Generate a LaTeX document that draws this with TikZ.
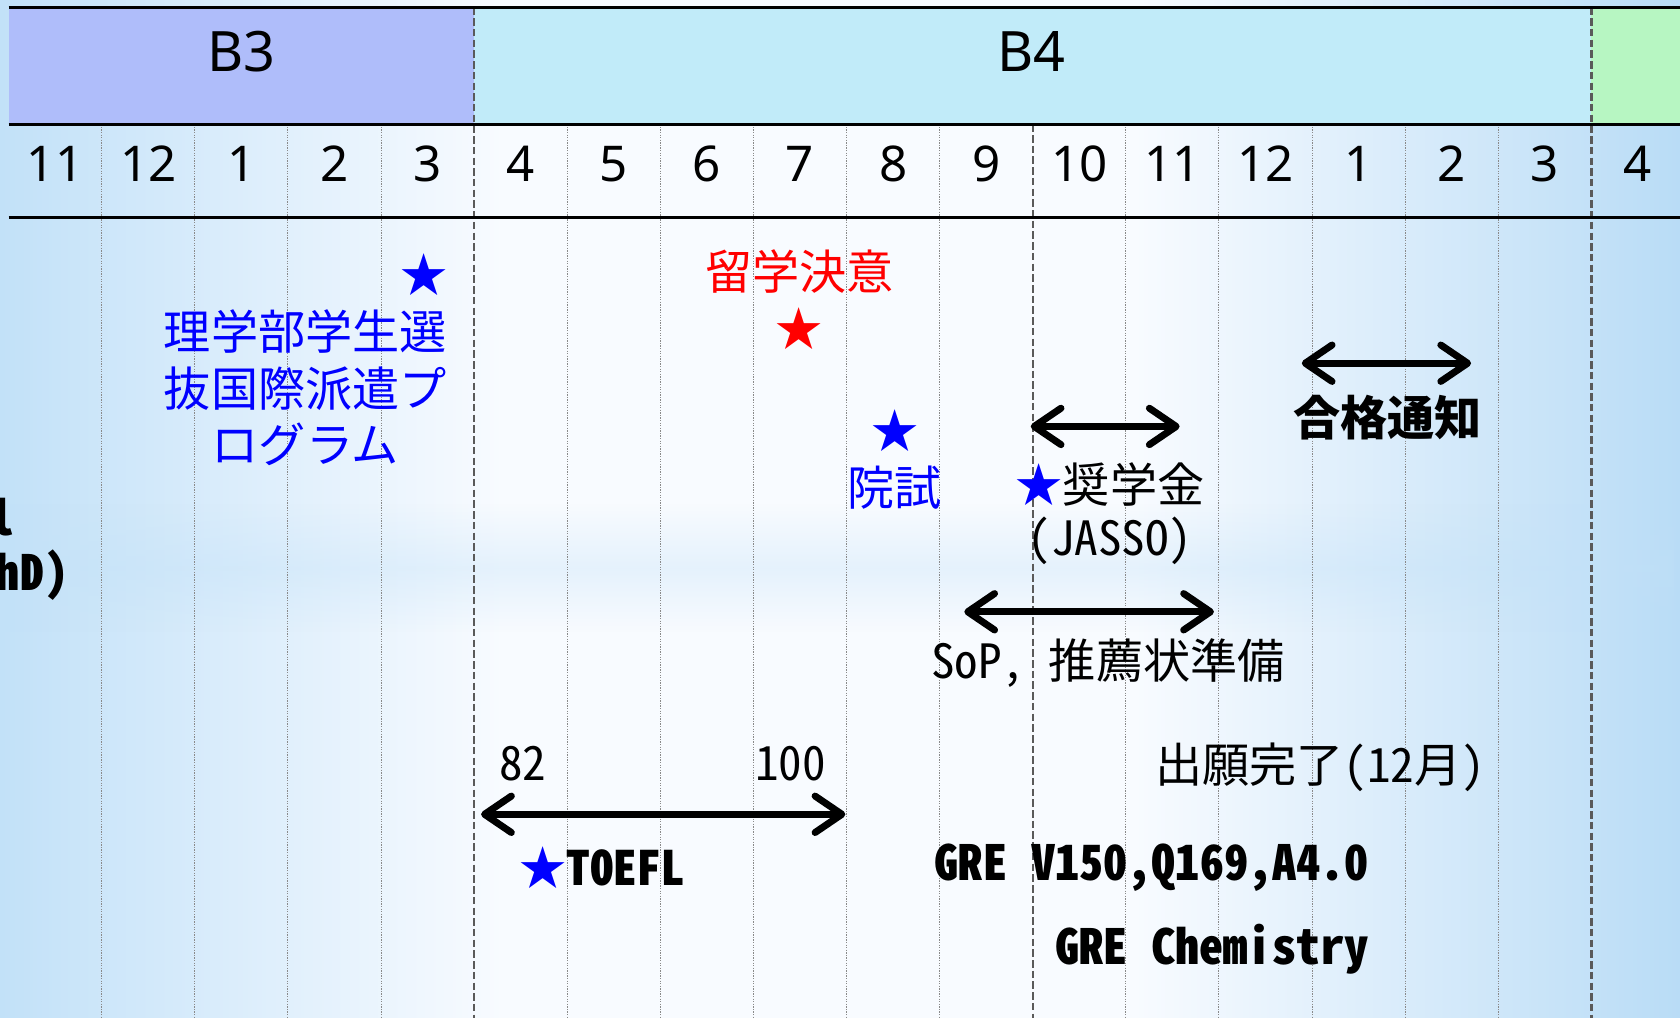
\documentclass[tikz,border=0pt]{standalone}
\usepackage{fontspec}
\setmainfont{Noto Sans}
\newfontfamily\jp{Noto Sans CJK JP}
\newfontfamily\hw{Noto Sans CJK JP}[RawFeature=+hwid]
\usetikzlibrary{arrows.meta,fadings}
\definecolor{bgL}{HTML}{C2E1F8}
\definecolor{bgM}{HTML}{F8FBFF}
\definecolor{bgR}{HTML}{B9DCF6}
\definecolor{bandB3}{HTML}{AFBDFA}
\definecolor{bandB4}{HTML}{C1EBF9}
\definecolor{bandNext}{HTML}{B7F6C2}
\definecolor{dashgray}{HTML}{5A5A5A}
\definecolor{dotgray}{HTML}{8A8A8A}
\tikzfading[name=vband, top color=transparent!100, bottom color=transparent!100, middle color=transparent!0]
\tikzset{
  dotline/.style={draw=dotgray, line width=0.9pt, dash pattern=on 1.2pt off 1.2pt},
  dashline/.style={draw=dashgray, line width=2.2pt, dash pattern=on 7pt off 3pt},
  rule/.style={draw=black, line width=2.6pt},
  bandlbl/.style={inner sep=0pt, font=\fontsize{52}{60}\selectfont\bfseries},
  monthlbl/.style={inner sep=0pt, font=\fontsize{46}{54}\selectfont},
  jtxt/.style={inner sep=0pt, font=\jp\fontsize{44}{52.5}\selectfont},
  ltxt/.style={inner sep=0pt, font=\hw\fontsize{44}{52.5}\selectfont},
  btxt/.style={inner sep=0pt, font=\hw\bfseries\fontsize{45}{54}\selectfont},
  barb/.tip={Straight Barb[length=25pt,width=34pt,line cap=round,line join=round]},
  dblarrow/.style={line width=6.5pt, line cap=round, barb-barb},
}
\begin{document}
\begin{tikzpicture}[x=1pt,y=-1pt]
\useasboundingbox (0,0) rectangle (1568,950);
\clip (0,0) rectangle (1568,950);
% background
\shade[left color=bgL, right color=bgM] (0,0) rectangle (470,950);
\fill[bgM] (469,0) rectangle (1060,950);
\shade[left color=bgM, right color=bgR] (1059,0) rectangle (1568,950);
\fill[bgL, path fading=vband, fill opacity=0.35] (0,470) rectangle (1568,590);
% header bands
\fill[bandB3] (8,7) rectangle (442.5,116);
\fill[bandB4] (442.5,7) rectangle (1485.3,116);
\fill[bandNext] (1485.3,7) rectangle (1568,116);
\node[bandlbl] (b3) at (225,48) {B3};
\node[bandlbl] (b4) at (963,48) {B4};
% grid lines
\foreach \k in {1,2,3,4,6,7,8,9,10,12,13,14,15,16}
  \draw[dotline] ({8+86.9*\k},116) -- ({8+86.9*\k},950);
\draw[dashline] (442.5,7) -- (442.5,950);
\draw[dashline] (963.9,116) -- (963.9,950);
\draw[dashline] (1485.3,7) -- (1485.3,950);
\draw[rule] (8,7) -- (1568,7);
\draw[rule] (8,116) -- (1568,116);
\draw[rule] (8,203) -- (1568,203);
% months
\foreach [count=\i from 0] \m in {11,12,1,2,3,4,5,6,7,8,9,10,11,12,1,2,3,4}
  \node[monthlbl] (m\i) at ({8+86.9*(\i+0.5)},153) {\m};
% left clipped labels
\node[btxt, anchor=east] (leftl) at (14,483) {l};
\node[btxt, anchor=west] (lefthd) at (-4,537) {hD)};
% events
\node[jtxt, text=blue] (star1) at (396,256) {★};
\node[jtxt, text=blue, align=center] (rigaku) at (285,362) {理学部学生選\\抜国際派遣プ\\ログラム};
\node[jtxt, text=red] (kettei) at (746,253) {留学決意};
\node[jtxt, text=red] (star2) at (746,307) {★};
\node[jtxt, text=blue] (star3) at (835,402) {★};
\node[jtxt, text=blue] (inshi) at (835,455) {院試};
\node[jtxt] (shogaku) at (1036,452) {\textcolor{blue}{★}奨学金};
\node[ltxt] (jasso) at (1036,505) {(JASSO)};
\node[jtxt, font=\jp\bfseries\fontsize{44}{52.5}\selectfont] (gokaku) at (1295,390) {合格通知};
\node[jtxt] (sop) at (1034,619) {{\hw SoP, }推薦状準備};
\node[jtxt] (shutsugan) at (1232,716) {出願完了{\hw (12}月{\hw )}};
\node[ltxt] (s82) at (488,713) {82};
\node[ltxt] (s100) at (738,713) {100};
\node[jtxt] (toefl) at (562,810) {\textcolor{blue}{★}{\hw\bfseries TOEFL}};
\node[btxt] (gre) at (1075,810) {GRE V150,Q169,A4.0};
\node[btxt] (grechem) at (1131,886) {GRE Chemistry};
% arrows
\coordinate (jassoL) at (962,398);
\coordinate (jassoR) at (1101,398);
\coordinate (gokL) at (1215,339);
\coordinate (gokR) at (1373,339);
\coordinate (sopL) at (900,571);
\coordinate (sopR) at (1133,571);
\coordinate (toeL) at (449,760);
\coordinate (toeR) at (789,760);
\draw[dblarrow] (jassoL) -- (jassoR);
\draw[dblarrow] (gokL) -- (gokR);
\draw[dblarrow] (sopL) -- (sopR);
\draw[dblarrow] (toeL) -- (toeR);
\end{tikzpicture}
\end{document}
